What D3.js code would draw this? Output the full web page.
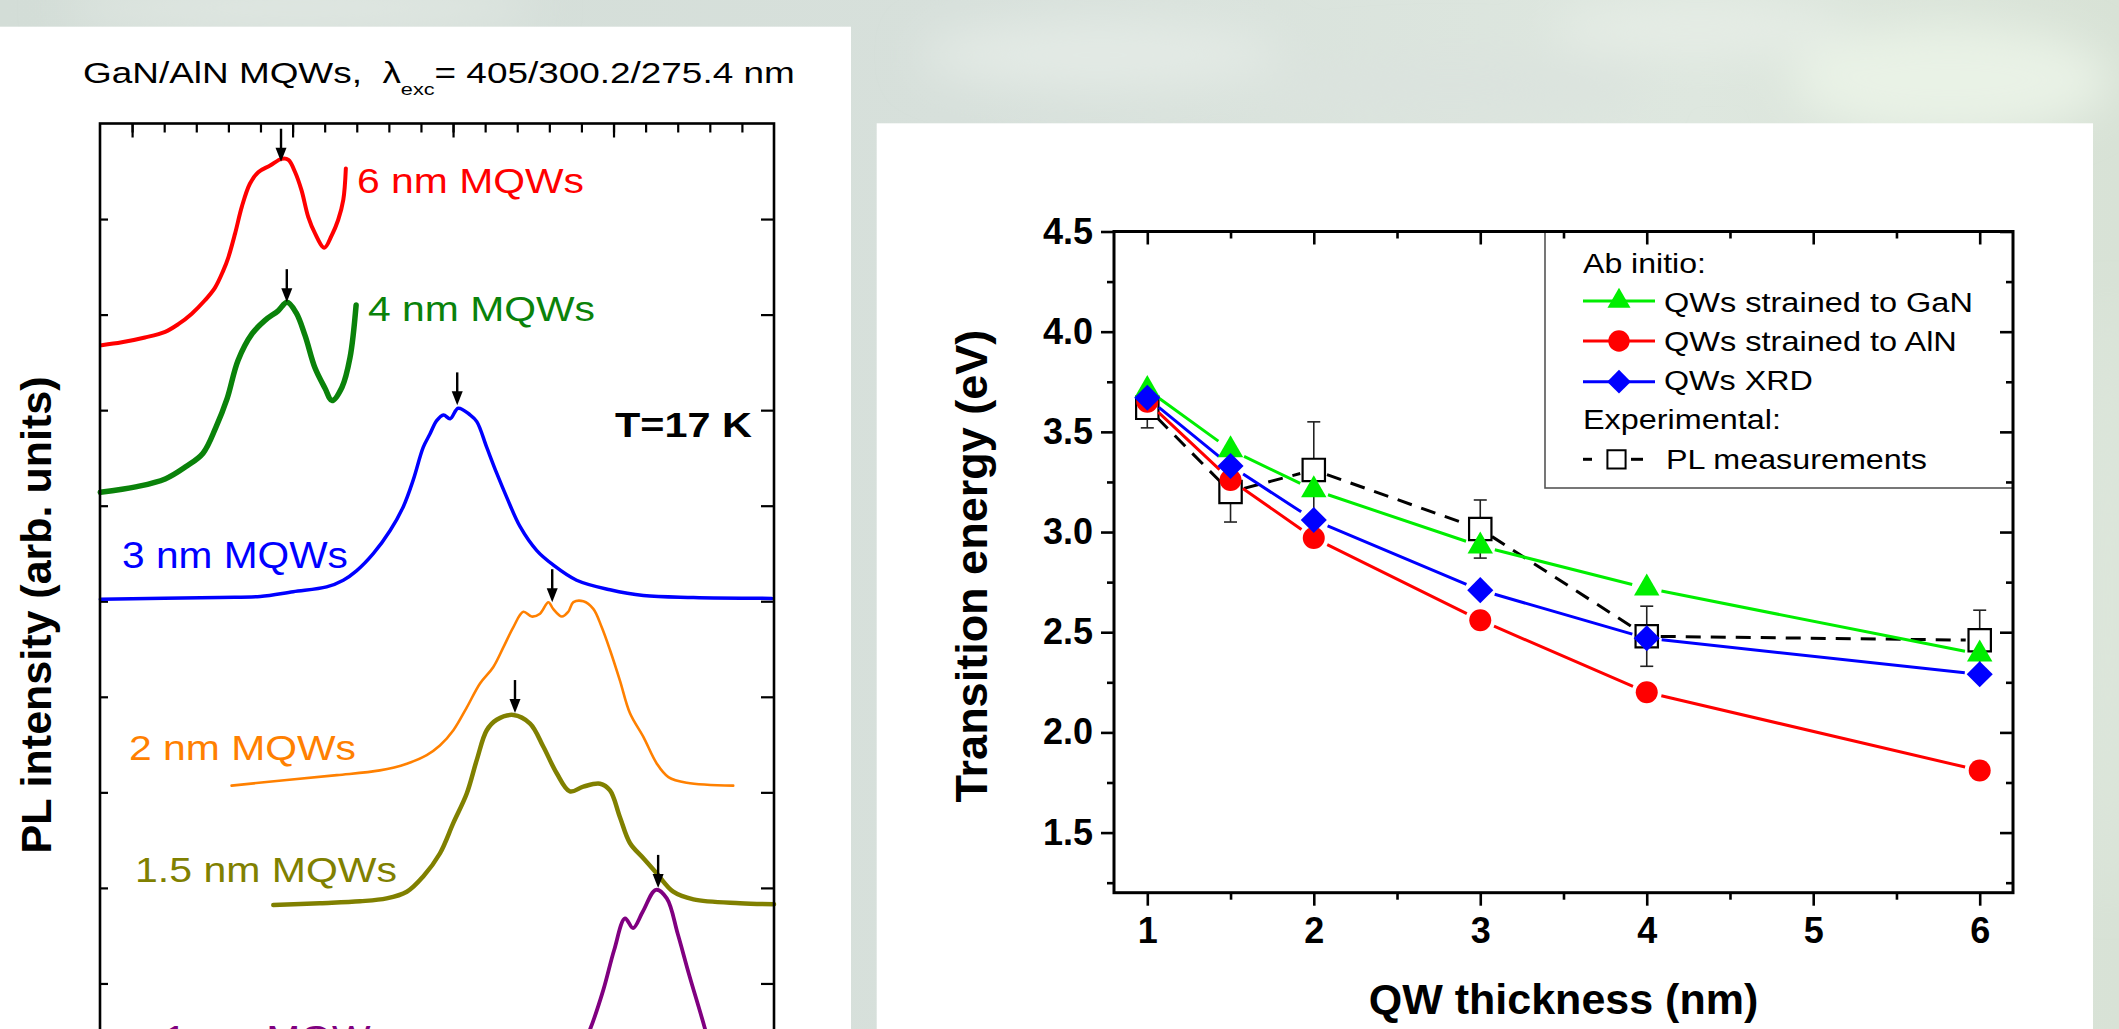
<!DOCTYPE html>
<html><head><meta charset="utf-8">
<script src="https://cdn.jsdelivr.net/npm/d3@7"></script>
<style>body{margin:0;overflow:hidden;background:#d8e1dc} svg{display:block}</style>
</head><body><svg id="c" width="2119" height="1029"></svg>
<script>
// ================= DATA =================
// ---- Left panel: PL spectra [photon energy (eV), offset PL intensity (arb. units)]
const spec6nm = [[1.905,7.68],[1.968,7.71],[2.040,7.76],[2.103,7.82],[2.144,7.90],[2.186,8.01],[2.227,8.15],[2.258,8.28],[2.284,8.46],[2.300,8.60],[2.321,8.85],[2.342,9.13],[2.367,9.37],[2.393,9.49],[2.430,9.56],[2.466,9.63],[2.487,9.62],[2.508,9.49],[2.528,9.30],[2.549,9.02],[2.570,8.85],[2.599,8.70],[2.622,8.83],[2.642,8.99],[2.658,9.20],[2.666,9.53]];
const spec4nm = [[1.901,6.14],[2.015,6.20],[2.103,6.28],[2.168,6.41],[2.221,6.55],[2.261,6.82],[2.296,7.12],[2.330,7.52],[2.374,7.80],[2.414,7.94],[2.455,8.04],[2.483,8.13],[2.511,8.02],[2.539,7.78],[2.570,7.44],[2.601,7.23],[2.623,7.10],[2.654,7.24],[2.679,7.55],[2.698,8.10]];
const spec3nm = [[1.901,5.02],[2.271,5.04],[2.399,5.05],[2.502,5.10],[2.606,5.15],[2.658,5.22],[2.700,5.32],[2.752,5.50],[2.804,5.74],[2.845,5.99],[2.876,6.27],[2.907,6.61],[2.928,6.75],[2.949,6.89],[2.970,6.95],[2.991,6.91],[3.016,7.02],[3.053,6.95],[3.074,6.88],[3.105,6.61],[3.136,6.34],[3.167,6.09],[3.209,5.78],[3.261,5.53],[3.312,5.38],[3.385,5.22],[3.489,5.12],[3.593,5.06],[3.749,5.04],[3.993,5.03]];
const spec2nm = [[2.310,3.07],[2.482,3.13],[2.638,3.18],[2.772,3.23],[2.856,3.30],[2.918,3.39],[2.959,3.49],[3.001,3.65],[3.043,3.89],[3.084,4.14],[3.125,4.31],[3.157,4.52],[3.188,4.73],[3.219,4.89],[3.245,4.84],[3.271,4.87],[3.297,4.99],[3.312,4.92],[3.339,4.84],[3.359,4.89],[3.375,4.99],[3.406,5.00],[3.437,4.92],[3.463,4.73],[3.489,4.49],[3.520,4.17],[3.551,3.83],[3.593,3.58],[3.635,3.30],[3.671,3.16],[3.728,3.10],[3.873,3.07]];
const spec1p5nm = [[2.440,1.82],[2.585,1.84],[2.710,1.86],[2.793,1.89],[2.856,1.96],[2.907,2.12],[2.959,2.36],[3.001,2.68],[3.043,2.99],[3.074,3.34],[3.105,3.65],[3.136,3.76],[3.188,3.81],[3.240,3.72],[3.281,3.48],[3.323,3.20],[3.364,3.01],[3.406,3.06],[3.458,3.09],[3.489,3.02],[3.520,2.74],[3.551,2.47],[3.593,2.31],[3.635,2.15],[3.686,1.96],[3.749,1.88],[3.894,1.84],[4.000,1.83]];
const spec1nm = [[3.405,0.36],[3.427,0.52],[3.468,0.93],[3.502,1.35],[3.536,1.68],[3.561,1.58],[3.591,1.75],[3.632,1.98],[3.666,1.89],[3.700,1.52],[3.734,1.11],[3.783,0.55],[3.798,0.36]];
const spectra = [spec6nm, spec4nm, spec3nm, spec2nm, spec1p5nm, spec1nm];
const sampleLabels = ["6 nm MQWs","4 nm MQWs","3 nm MQWs","2 nm MQWs","1.5 nm MQWs","1 nm MQWs"];
const peakE = [2.464, 2.482, 3.013, 3.309, 3.193, 3.639];
const peakI = [9.60, 8.13, 7.05, 4.99, 3.83, 2.00];
const leftMinorTicks = d3.range(20, 40).map(d => d / 10);
const leftMajorTicks = [2.0, 2.5, 3.0, 3.5];
const leftYTicks = [1,2,3,4,5,6,7,8,9];

// ---- Right panel: transition energy vs QW thickness
const thickness = [1, 1.5, 2, 3, 4, 6];
const energyGaN = [3.71, 3.41, 3.21, 2.93, 2.72, 2.39];
const energyAlN = [3.65, 3.26, 2.97, 2.56, 2.20, 1.81];
const energyXRD = [3.67, 3.33, 3.06, 2.71, 2.47, 2.29];
const energyPL  = [3.62, 3.20, 3.31, 3.015, 2.48, 2.46];
const errorPL   = [0.10, 0.15, 0.24, 0.145, 0.15, 0.15];
const seriesNames = ["QWs strained to GaN", "QWs strained to AlN", "QWs XRD"];
const xTicksMajor = [1, 2, 3, 4, 5, 6];
const xTicksMinor = [1.5, 2.5, 3.5, 4.5, 5.5];
const yTicksMajor = [1.5, 2.0, 2.5, 3.0, 3.5, 4.0, 4.5];
const yTicksMinor = [1.25, 1.75, 2.25, 2.75, 3.25, 3.75, 4.25];

// ================= STYLE / LAYOUT =================
const FONT = "'Liberation Sans', Arial, Helvetica, sans-serif";
const specColors = ["#ff0000", "#0a820a", "#0000ff", "#ff8000", "#808000", "#800080"];
const specWidths = [4, 5.5, 3.5, 2.6, 4.5, 3.8];
const labelLayout = [[357,193,227],[368,320.5,227],[122,568,226],[129,760,227],[135,882,262],[164,1050,227]];
const serColors = ["#00ee00", "#ff0000", "#0000ff"];

const svg = d3.select("#c");
const defs = svg.append("defs");

// background
const bg = defs.append("linearGradient").attr("id","bgG").attr("x1",0).attr("x2",1).attr("y1",0).attr("y2",0);
[["0%","#d3ddd7"],["45%","#d7e0db"],["80%","#dee7df"],["100%","#d8e2d6"]].forEach(([o,c]) => bg.append("stop").attr("offset",o).attr("stop-color",c));
defs.append("filter").attr("id","blur").attr("x","-50%").attr("y","-50%").attr("width","200%").attr("height","200%")
  .append("feGaussianBlur").attr("stdDeviation", 22);
svg.append("rect").attr("width",2119).attr("height",1029).attr("fill","url(#bgG)");
const blobs = [[300,8,240,22,"#e1e8e3"],[1100,55,180,35,"#e3eae5"],[1450,85,200,30,"#dbe3de"],[1950,80,160,55,"#e9f2e6"],[2108,600,14,300,"#e0e9df"],[1700,30,150,25,"#e6ede6"]];
svg.append("g").attr("filter","url(#blur)").selectAll("ellipse").data(blobs).join("ellipse")
  .attr("cx",d=>d[0]).attr("cy",d=>d[1]).attr("rx",d=>d[2]).attr("ry",d=>d[3]).attr("fill",d=>d[4]);

// white panels
svg.append("rect").attr("x",0).attr("y",26.7).attr("width",851).attr("height",1010).attr("fill","#fff");
svg.append("rect").attr("x",876.7).attr("y",123.3).attr("width",2093-876.7).attr("height",910).attr("fill","#fff");

function stretch(sel, x0, y, w) {
  const bw = sel.node().getBBox().width;
  sel.attr("x",0).attr("y",0).attr("transform",`translate(${x0},${y}) scale(${w/bw},1)`);
}
function styleAxis(g, sw) {
  g.select(".domain").remove();
  g.selectAll(".tick line").attr("stroke","#000").attr("stroke-width",sw);
}

// ================= LEFT PANEL =================
const L = svg.append("g");
const xL = d3.scaleLinear().domain([1.9, 4.0]).range([100, 774]);
const yL = d3.scaleLinear().domain([0, 10]).range([1079, 123.5]);

// title
const title = L.append("text").attr("font-family",FONT).attr("font-size",29).attr("fill","#000");
title.append("tspan").text("GaN/AlN MQWs,\u00a0\u00a0\u03bb");
title.append("tspan").attr("font-size",17).attr("dy",12).text("exc");
title.append("tspan").attr("dy",-12).text("= 405/300.2/275.4 nm");
stretch(title, 83, 83, 712);

// ticks
styleAxis(L.append("g").attr("transform",`translate(0,${yL(10)})`).call(d3.axisTop(xL).tickValues(leftMinorTicks).tickSize(-9).tickFormat("")), 2.2);
styleAxis(L.append("g").attr("transform",`translate(0,${yL(10)})`).call(d3.axisTop(xL).tickValues(leftMajorTicks).tickSize(-14).tickFormat("")), 2.2);
styleAxis(L.append("g").attr("transform",`translate(${xL(1.9)},0)`).call(d3.axisLeft(yL).tickValues(leftYTicks).tickSize(-8).tickFormat("")), 2.2);
styleAxis(L.append("g").attr("transform",`translate(${xL(4.0)},0)`).call(d3.axisRight(yL).tickValues(leftYTicks).tickSize(-13).tickFormat("")), 2.2);

// spectra
const specLine = d3.line().x(d => xL(d[0])).y(d => yL(d[1])).curve(d3.curveCatmullRom.alpha(0.5));
L.append("g").selectAll("path").data(spectra).join("path")
  .attr("d", specLine).attr("fill","none")
  .attr("stroke",(d,i)=>specColors[i]).attr("stroke-width",(d,i)=>specWidths[i])
  .attr("stroke-linejoin","round").attr("stroke-linecap","round");

// frame
L.append("rect").attr("x",xL(1.9)).attr("y",yL(10)).attr("width",xL(4.0)-xL(1.9)).attr("height",yL(0)-yL(10))
  .attr("fill","none").attr("stroke","#000").attr("stroke-width",2.6);

// peak arrows
const arrows = L.append("g");
peakE.forEach((e,i) => {
  const x = xL(e), y = yL(peakI[i]);
  arrows.append("line").attr("x1",x).attr("x2",x).attr("y1",y-33).attr("y2",y-10).attr("stroke","#000").attr("stroke-width",2.4);
  arrows.append("path").attr("d",`M${x-5.5},${y-14}L${x+5.5},${y-14}L${x},${y}Z`).attr("fill","#000");
});

// labels
sampleLabels.forEach((t,i) => {
  const s = L.append("text").attr("font-family",FONT).attr("font-size",36).attr("fill",specColors[i]).text(t);
  stretch(s, labelLayout[i][0], labelLayout[i][1], labelLayout[i][2]);
});
const tl = L.append("text").attr("font-family",FONT).attr("font-size",35).attr("font-weight","bold").text("T=17 K");
stretch(tl, 615, 437, 137);

L.append("text").attr("font-family",FONT).attr("font-size",43).attr("font-weight","bold")
  .attr("text-anchor","middle").attr("transform","translate(51,615) rotate(-90)").text("PL intensity (arb. units)");

// ================= RIGHT PANEL =================
const R = svg.append("g");
const xR = d3.scaleLinear().domain([0.8, 6.2]).range([1114, 2013]);
const yR = d3.scaleLinear().domain([1.2, 4.5]).range([892.7, 231.5]);

function fontAxis(g){ g.attr("font-family",FONT).attr("font-size",36).attr("font-weight","bold"); g.selectAll("text").attr("fill","#000"); }
let g;
g = R.append("g").attr("transform",`translate(0,${yR(1.2)})`).call(d3.axisBottom(xR).tickValues(xTicksMajor).tickSize(13).tickPadding(12).tickFormat(d3.format("d")));
styleAxis(g,2.6); fontAxis(g);
styleAxis(R.append("g").attr("transform",`translate(0,${yR(1.2)})`).call(d3.axisBottom(xR).tickValues(xTicksMinor).tickSize(7).tickFormat("")),2.6);
g = R.append("g").attr("transform",`translate(${xR(0.8)},0)`).call(d3.axisLeft(yR).tickValues(yTicksMajor).tickSize(13).tickPadding(8).tickFormat(d3.format(".1f")));
styleAxis(g,2.6); fontAxis(g);
styleAxis(R.append("g").attr("transform",`translate(${xR(0.8)},0)`).call(d3.axisLeft(yR).tickValues(yTicksMinor).tickSize(7).tickFormat("")),2.6);
styleAxis(R.append("g").attr("transform",`translate(0,${yR(4.5)})`).call(d3.axisTop(xR).tickValues(xTicksMajor).tickSize(-13).tickFormat("")),2.6);
styleAxis(R.append("g").attr("transform",`translate(0,${yR(4.5)})`).call(d3.axisTop(xR).tickValues(xTicksMinor).tickSize(-7).tickFormat("")),2.6);
styleAxis(R.append("g").attr("transform",`translate(${xR(6.2)},0)`).call(d3.axisRight(yR).tickValues(yTicksMajor).tickSize(-13).tickFormat("")),2.6);
styleAxis(R.append("g").attr("transform",`translate(${xR(6.2)},0)`).call(d3.axisRight(yR).tickValues(yTicksMinor).tickSize(-7).tickFormat("")),2.6);

// legend box (under data)
R.append("rect").attr("x",1545).attr("y",yR(4.5)).attr("width",xR(6.2)-1545).attr("height",488-yR(4.5))
  .attr("fill","none").attr("stroke","#555").attr("stroke-width",1.6);

function gapped(pts, gap){
  let d = "";
  for (let i=0;i<pts.length-1;i++){
    const [x0,y0]=pts[i],[x1,y1]=pts[i+1];
    const dx=x1-x0, dy=y1-y0, len=Math.hypot(dx,dy);
    if (len <= 2*gap) continue;
    const ux=dx/len, uy=dy/len;
    d += `M${x0+ux*gap},${y0+uy*gap}L${x1-ux*gap},${y1-uy*gap}`;
  }
  return d;
}
const pts = arr => thickness.map((t,i) => [xR(t), yR(arr[i])]);

// PL measurements (dashed + error bars + open squares)
R.append("path").attr("d",gapped(pts(energyPL),14)).attr("fill","none").attr("stroke","#000").attr("stroke-width",3).attr("stroke-dasharray","15,10");
const eb = R.append("g").attr("stroke","#222").attr("stroke-width",1.6);
thickness.forEach((t,i) => {
  const x = xR(t), y0 = yR(energyPL[i]-errorPL[i]), y1 = yR(energyPL[i]+errorPL[i]);
  eb.append("line").attr("x1",x).attr("x2",x).attr("y1",y0).attr("y2",y1);
  eb.append("line").attr("x1",x-6.5).attr("x2",x+6.5).attr("y1",y0).attr("y2",y0);
  eb.append("line").attr("x1",x-6.5).attr("x2",x+6.5).attr("y1",y1).attr("y2",y1);
});
const symSquare = d3.symbol().type(d3.symbolSquare).size(500);
R.append("g").selectAll("path").data(thickness).join("path").attr("d",symSquare)
  .attr("transform",(t,i)=>`translate(${xR(t)},${yR(energyPL[i])})`)
  .attr("fill","#fff").attr("stroke","#000").attr("stroke-width",2.2);

// theory series
const theory = [energyGaN, energyAlN, energyXRD];
const symbols = [
  d3.symbol().type(d3.symbolTriangle).size(280),
  d3.symbol().type(d3.symbolCircle).size(380),
  d3.symbol().type(d3.symbolSquare).size(340)
];
const rot = [0, 0, 45];
theory.forEach((arr,k) => {
  R.append("path").attr("d",gapped(pts(arr),15)).attr("fill","none").attr("stroke",serColors[k]).attr("stroke-width",3);
});
theory.forEach((arr,k) => {
  R.append("g").selectAll("path").data(thickness).join("path").attr("d",symbols[k])
    .attr("transform",(t,i)=>`translate(${xR(t)},${yR(arr[i])}) rotate(${rot[k]})`)
    .attr("fill",serColors[k]);
});

// frame
R.append("rect").attr("x",xR(0.8)).attr("y",yR(4.5)).attr("width",xR(6.2)-xR(0.8)).attr("height",yR(1.2)-yR(4.5))
  .attr("fill","none").attr("stroke","#000").attr("stroke-width",3);

// legend content
const lg = R.append("g").attr("font-family",FONT).attr("font-size",28).attr("fill","#000");
stretch(lg.append("text").text("Ab initio:"), 1583, 272.7, 123);
const rowY = [301, 341, 381.7];
const rowBase = [311.7, 350.7, 390];
const rowW = [309, 293, 149];
const legSyms = [
  d3.symbol().type(d3.symbolTriangle).size(230),
  d3.symbol().type(d3.symbolCircle).size(360),
  d3.symbol().type(d3.symbolSquare).size(280)
];
seriesNames.forEach((n,k) => {
  lg.append("line").attr("x1",1583).attr("x2",1655).attr("y1",rowY[k]).attr("y2",rowY[k]).attr("stroke",serColors[k]).attr("stroke-width",3);
  lg.append("path").attr("d",legSyms[k]).attr("transform",`translate(1619,${rowY[k]}) rotate(${rot[k]})`).attr("fill",serColors[k]);
  stretch(lg.append("text").text(n), 1664, rowBase[k], rowW[k]);
});
stretch(lg.append("text").text("Experimental:"), 1583, 429.3, 198);
lg.append("line").attr("x1",1583).attr("x2",1592).attr("y1",459.3).attr("y2",459.3).attr("stroke","#000").attr("stroke-width",3);
lg.append("line").attr("x1",1631).attr("x2",1643).attr("y1",459.3).attr("y2",459.3).attr("stroke","#000").attr("stroke-width",3);
lg.append("path").attr("d",d3.symbol().type(d3.symbolSquare).size(330)).attr("transform","translate(1616.5,459.3)")
  .attr("fill","#fff").attr("stroke","#000").attr("stroke-width",2);
stretch(lg.append("text").text("PL measurements"), 1666, 469.3, 261);

// axis titles
R.append("text").attr("font-family",FONT).attr("font-size",45).attr("font-weight","bold").attr("text-anchor","middle")
  .attr("transform",`translate(987,${(yR(4.5)+yR(1.2))/2+4}) rotate(-90)`).text("Transition energy (eV)");
R.append("text").attr("font-family",FONT).attr("font-size",43).attr("font-weight","bold").attr("text-anchor","middle")
  .attr("x",(xR(0.8)+xR(6.2))/2).attr("y",1014).text("QW thickness (nm)");
</script></body></html>
